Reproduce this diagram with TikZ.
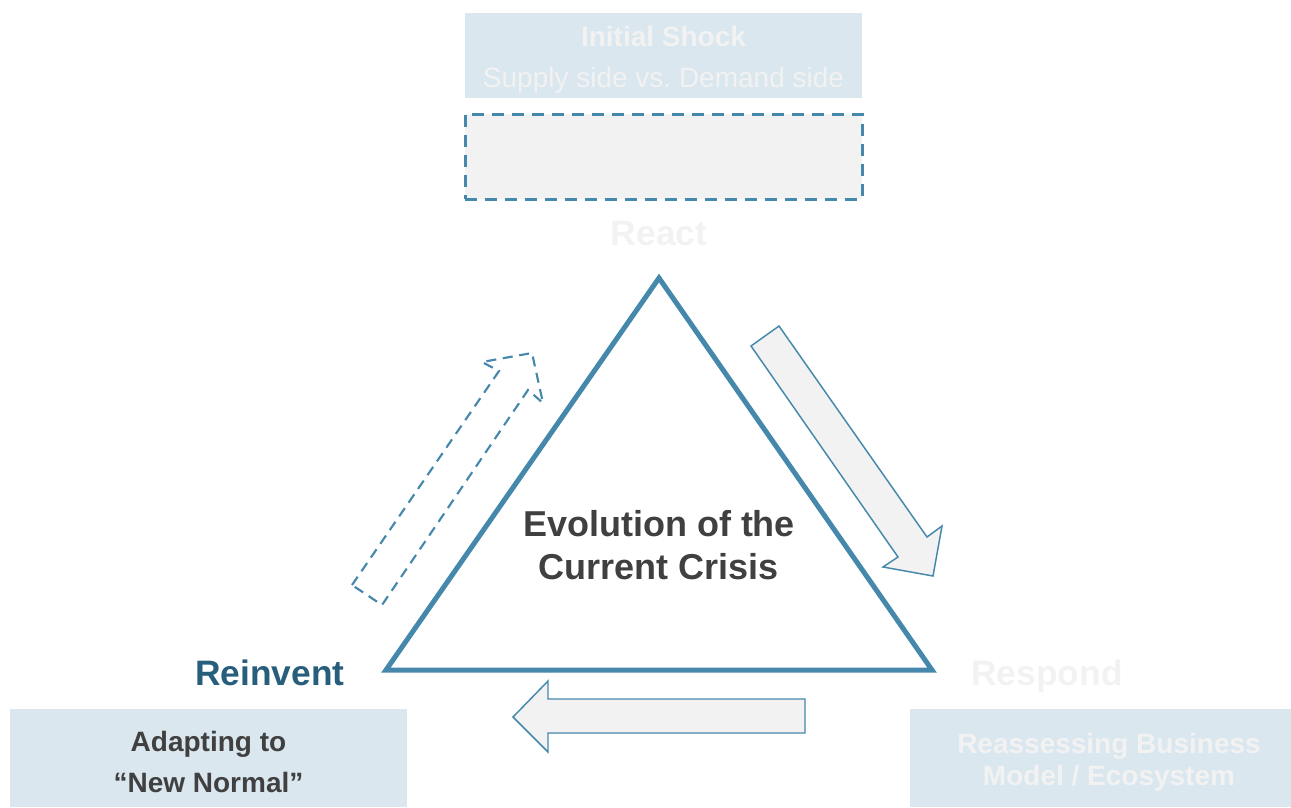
\documentclass[tikz,border=0pt]{standalone}
\usepackage{fontspec}
\setmainfont{Liberation Sans}
\definecolor{lineblue}{RGB}{69,136,172}
\definecolor{boxblue}{RGB}{218,231,238}
\definecolor{palegray}{RGB}{242,242,242}
\definecolor{darktext}{RGB}{64,64,64}
\definecolor{tealtext}{RGB}{38,94,124}
\tikzset{every picture/.style={line width=0.75pt}}
\tikzset{
  infobox/.style={fill=boxblue, inner sep=0pt},
  boxtext/.style={inner sep=0pt, align=center, yshift=-3pt},
  phaselabel/.style={anchor=base, inner sep=0pt, font=\fontsize{26.5}{30}\selectfont\bfseries},
  blockarrow/.style={draw=lineblue, fill=palegray, line width=1.1pt, line join=miter},
  dasharrow/.style={draw=lineblue, line width=1.6pt, dash pattern=on 7.5pt off 5pt, line join=miter}
}

\begin{document}
\begin{tikzpicture}[x=0.75pt,y=0.75pt,yscale=-1,xscale=1]
\useasboundingbox (0,0) rectangle (1291,807);
\clip (0,0) rectangle (1291,807);

%Shape: Rectangle [id:dp4410235871] 
\node[infobox, minimum width=297.75pt, minimum height=63.75pt] (shock) at (663.5,55.5) {};
\node[boxtext, text=palegray, font=\fontsize{21}{30.75}\selectfont] (shock text) at (shock.center) {\textbf{Initial Shock}\\Supply side vs.\ Demand side};
%Shape: Rectangle [id:dp7736104952] 
\node[fill=palegray, draw=lineblue, line width=2.25pt, dash pattern=on 9pt off 6pt, minimum width=297.75pt, minimum height=63.75pt] (react box) at (663.5,156.5) {};
%Shape: Rectangle [id:dp2918846203] 
\node[infobox, minimum width=297.75pt, minimum height=73.5pt] (adapt) at (208.5,758) {};
\node[boxtext, text=darktext, font=\fontsize{21}{30.75}\selectfont\bfseries] (adapt text) at (adapt.center) {Adapting to\\“New Normal”};
%Shape: Rectangle [id:dp9052637714] 
\node[infobox, minimum width=298.5pt, minimum height=73.5pt] (reassess) at (1109,758) {};
\node[boxtext, text=palegray, font=\fontsize{21}{24}\selectfont\bfseries] (reassess text) at (reassess.center) {Reassessing Business\\Model / Ecosystem};

%Shape: Triangle [id:dp5583120947] 
\draw[draw=lineblue, line width=3.75pt, line join=miter] (659,278) -- (932,670) -- (386,670) -- cycle ;

%Phase labels
\node[phaselabel, text=palegray] (react) at (659,245) {React};
\node[phaselabel, text=tealtext] (reinvent) at (270,685) {Reinvent};
\node[phaselabel, text=palegray] (respond) at (1047,685) {Respond};
\node[align=center, text=darktext, font=\fontsize{27}{32.25}\selectfont\bfseries] (crisis) at (659,545) {Evolution of the\\Current Crisis};

%Shape: Right Arrow [id:dp3360458127] 
\draw[blockarrow] (751,346) -- (779,326) -- (927,537) -- (942,526) -- (933,576) -- (883,567) -- (898,557) -- cycle ;
%Shape: Left Arrow [id:dp8812067403] 
\draw[blockarrow] (805,699) -- (548,699) -- (548,681) -- (513,717) -- (548,752) -- (548,733) -- (805,733) -- cycle ;
%Shape: Right Arrow [id:dp1267095538] 
\draw[dasharrow] (352,585) -- (499,371) -- (482,362) -- (532,353) -- (543,403) -- (528,390) -- (382,605) -- cycle ;

\end{tikzpicture}
\end{document}
